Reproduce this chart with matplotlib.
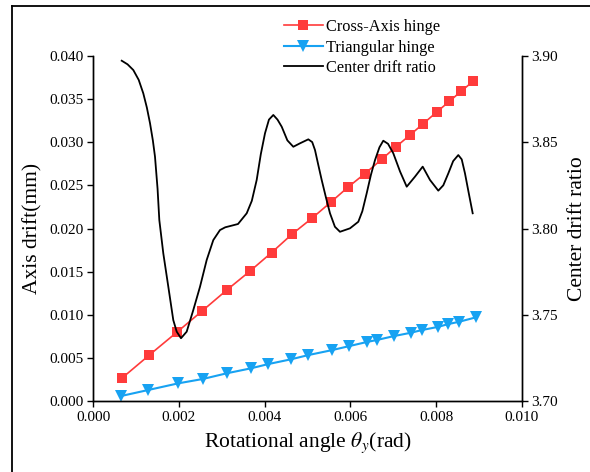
import matplotlib
matplotlib.use("Agg")
import matplotlib.pyplot as plt
from matplotlib.lines import Line2D

plt.rcParams['font.family'] = ['Liberation Serif', 'DejaVu Serif']
plt.rcParams['mathtext.fontset'] = 'stix'

# Cross-Axis hinge
cross_x = [0.000663, 0.001307, 0.001947, 0.002544, 0.003114, 0.003665, 0.004164,
           0.004638, 0.005112, 0.005542, 0.005952, 0.006342, 0.006732, 0.007059,
           0.007393, 0.007703, 0.008016, 0.008310, 0.008583, 0.008870]
cross_y = [0.00266, 0.00535, 0.00798, 0.01047, 0.01287, 0.01510, 0.01722,
           0.01934, 0.02122, 0.02304, 0.02481, 0.02636, 0.02801, 0.02943,
           0.03082, 0.03214, 0.03348, 0.03471, 0.03587, 0.03706]

# Triangular hinge
tri_x = [0.000647, 0.001284, 0.001984, 0.002554, 0.003114, 0.003674, 0.004085,
         0.004615, 0.005019, 0.005579, 0.005976, 0.006382, 0.006615, 0.007019,
         0.007409, 0.007666, 0.008053, 0.008287, 0.008536, 0.008926]
tri_y = [0.00061, 0.00131, 0.00208, 0.00258, 0.00324, 0.00381, 0.00431,
         0.00486, 0.00535, 0.00593, 0.00639, 0.00686, 0.00709, 0.00755,
         0.00793, 0.00824, 0.00862, 0.00894, 0.00920, 0.00971]

# Center drift ratio
ratio_x = [0.000663, 0.000800, 0.000934, 0.001060, 0.001167, 0.001250, 0.001324,
           0.001390, 0.001440, 0.001500, 0.001541, 0.001634,
           0.001751, 0.001867, 0.001947, 0.002047, 0.002180, 0.002334, 0.002491,
           0.002647, 0.002801, 0.002957, 0.003080, 0.003191, 0.003378, 0.003581,
           0.003700, 0.003814, 0.003910, 0.004008, 0.004100, 0.004202, 0.004300,
           0.004398, 0.004530, 0.004669, 0.004825, 0.005019, 0.005110, 0.005175,
           0.005250, 0.005331, 0.005430, 0.005525, 0.005640, 0.005758, 0.005992,
           0.006186, 0.006280, 0.006382, 0.006480, 0.006576, 0.006680, 0.006769,
           0.006880, 0.007003, 0.007160, 0.007316, 0.007509, 0.007689, 0.007859,
           0.008053, 0.008170, 0.008287, 0.008400, 0.008520, 0.008600, 0.008676,
           0.008760, 0.008856]
ratio_y = [3.8971, 3.8950, 3.8917, 3.8860, 3.8782, 3.8700, 3.8609,
           3.8510, 3.8416, 3.8230, 3.8049, 3.7856,
           3.7663, 3.7470, 3.7403, 3.7365, 3.7403, 3.7528, 3.7663,
           3.7818, 3.7933, 3.7991, 3.8007, 3.8014, 3.8026, 3.8088,
           3.8160, 3.8281, 3.8430, 3.8551, 3.8630, 3.8657, 3.8630,
           3.8589, 3.8510, 3.8473, 3.8493, 3.8516, 3.8500, 3.8454,
           3.8370, 3.8281, 3.8180, 3.8088, 3.8010, 3.7981, 3.8001,
           3.8039, 3.8100, 3.8204, 3.8310, 3.8396, 3.8470, 3.8508,
           3.8490, 3.8435, 3.8330, 3.8242, 3.8300, 3.8358, 3.8281,
           3.8219, 3.8250, 3.8319, 3.8390, 3.8425, 3.8400, 3.8319,
           3.8210, 3.8088]

x_ticks = [0.000, 0.002, 0.004, 0.006, 0.008, 0.010]
y_ticks = [0.000, 0.005, 0.010, 0.015, 0.020, 0.025, 0.030, 0.035, 0.040]
y2_ticks = [3.70, 3.75, 3.80, 3.85, 3.90]

red = '#FF3B3B'
blue = '#17A2F2'

fig = plt.figure(figsize=(5.9, 4.72), dpi=100)
ax = fig.add_axes([93.3 / 590, 1 - 401.3 / 472, (521.7 - 93.3) / 590, (401.3 - 55.7) / 472])

l1, = ax.plot(cross_x, cross_y, color=red, lw=1.2, marker='s', markersize=7.2,
              markeredgewidth=0, label='Cross-Axis hinge')
l2, = ax.plot(tri_x, tri_y, color=blue, lw=1.5, marker='v', markersize=9,
              markeredgewidth=0, label='Triangular hinge')
ax.set_xlim(0, 0.010)
ax.set_ylim(0, 0.040)
ax.set_xticks(x_ticks)
ax.set_xticklabels([f'{v:.3f}' for v in x_ticks])
ax.set_yticks(y_ticks)
ax.set_yticklabels([f'{v:.3f}' for v in y_ticks])

ax2 = ax.twinx()
l3, = ax2.plot(ratio_x, ratio_y, color='black', lw=1.3, label='Center drift ratio',
               solid_joinstyle='round')
ax2.set_ylim(3.70, 3.90)
ax2.set_yticks(y2_ticks)
ax2.set_yticklabels([f'{v:.2f}' for v in y2_ticks])

for a in (ax, ax2):
    a.spines['top'].set_visible(False)
    for s in a.spines.values():
        s.set_linewidth(1.0)
    a.tick_params(direction='out', length=4, width=1.0, labelsize=11, pad=3)

ax.set_xlabel(r'Rotational angle $\theta_y$(rad)', fontsize=15.5, labelpad=5)
ax.set_ylabel('Axis drift(mm)', fontsize=15.5, labelpad=5)
ax2.set_ylabel('Center drift ratio', fontsize=15.5, labelpad=7)

fig.legend(handles=[l1, l2, l3], loc='upper left',
           bbox_to_anchor=(283.5 / 590, 1 - 19 / 472), frameon=False,
           fontsize=11.8, handlelength=2.4, handletextpad=0.2,
           labelspacing=0.28, borderpad=0, borderaxespad=0)

# figure frame
fig.add_artist(Line2D([12 / 590, 12 / 590], [0, 1 - 5.7 / 472], transform=fig.transFigure,
                      color='black', lw=1.3))
fig.add_artist(Line2D([12 / 590, 1], [1 - 5.7 / 472, 1 - 5.7 / 472], transform=fig.transFigure,
                      color='black', lw=1.3))

fig.savefig('out.png', dpi=100)
